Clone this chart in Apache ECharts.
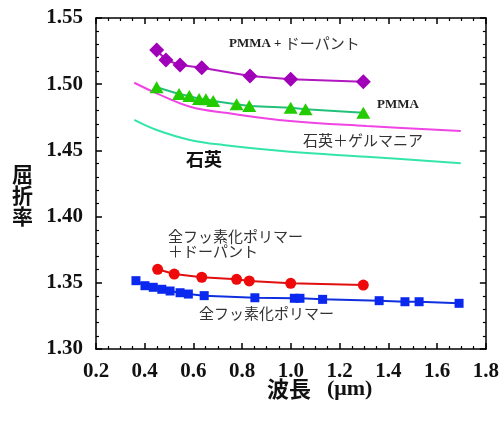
<!DOCTYPE html>
<html><head><meta charset="utf-8">
<script src="https://cdn.jsdelivr.net/npm/echarts@6/dist/echarts.min.js"></script>
<style>html,body{margin:0;padding:0;background:#fff}#c{width:502px;height:421px}</style>
</head><body><div id="c"></div>
<script>
// Data (wavelength in µm, refractive index)
const pmmaDopantX = [0.449, 0.487, 0.545, 0.634, 0.832, 0.999, 1.297];
const pmmaDopantY = [1.5258, 1.5183, 1.5145, 1.5125, 1.5062, 1.5037, 1.5019];
const pmmaX = [0.449, 0.541, 0.583, 0.623, 0.651, 0.681, 0.777, 0.829, 0.999, 1.060, 1.297];
const pmmaY = [1.4977, 1.4926, 1.4911, 1.4888, 1.4886, 1.4873, 1.4848, 1.4835, 1.4823, 1.4810, 1.4785];
const quartzGeX = [0.357, 0.449, 0.586, 0.74, 0.996, 1.311, 1.697];
const quartzGeY = [1.5011, 1.4931, 1.4830, 1.4782, 1.4722, 1.4684, 1.4647];
const quartzX = [0.357, 0.449, 0.586, 0.722, 0.996, 1.311, 1.697];
const quartzY = [1.4730, 1.4654, 1.4579, 1.4541, 1.4490, 1.4452, 1.4403];
const pfDopantX = [0.453, 0.521, 0.634, 0.777, 0.829, 0.999, 1.297];
const pfDopantY = [1.3602, 1.3566, 1.3542, 1.3526, 1.3514, 1.3496, 1.3483];
const pfX = [0.364, 0.401, 0.435, 0.470, 0.504, 0.545, 0.579, 0.644, 0.852, 1.014, 1.037, 1.130, 1.362, 1.468, 1.526, 1.690];
const pfY = [1.3516, 1.3478, 1.3466, 1.3451, 1.3438, 1.3425, 1.3415, 1.3403, 1.3387, 1.3383, 1.3383, 1.3375, 1.3365, 1.3357, 1.3357, 1.3345];
const xTicks = [0.2, 0.4, 0.6, 0.8, 1.0, 1.2, 1.4, 1.6, 1.8];
const yTicks = [1.30, 1.35, 1.40, 1.45, 1.50, 1.55];

const zip = (xs, ys) => xs.map((x, i) => [x, ys[i]]);
const serif = '"Liberation Serif", "DejaVu Serif", serif';
const gothic = '"Noto Sans CJK JP", "Noto Sans", sans-serif';

const chart = echarts.init(document.getElementById('c'), null, {renderer: 'canvas'});
const axisCommon = {
  axisLine: {show: true, lineStyle: {color: '#000', width: 1.5}},
  axisTick: {show: true, inside: true, length: 6, lineStyle: {color: '#000', width: 1.5}},
  minorTick: {show: true, length: 3, lineStyle: {color: '#000', width: 1.2}},
  splitLine: {show: false}
};
chart.setOption({
  animation: false,
  backgroundColor: '#fff',
  grid: {left: 96, right: 16, top: 18, bottom: 72},
  xAxis: [
    Object.assign({type: 'value', min: xTicks[0], max: xTicks[xTicks.length - 1], interval: 0.2, position: 'bottom',
      axisLabel: {show: true, margin: 12, color: '#111', fontFamily: serif, fontWeight: 'bold', fontSize: 21,
        formatter: v => v.toFixed(1)}}, axisCommon, {minorTick: Object.assign({}, axisCommon.minorTick, {splitNumber: 4})}),
    Object.assign({type: 'value', min: xTicks[0], max: xTicks[xTicks.length - 1], interval: 0.2, position: 'top',
      axisLabel: {show: false}}, axisCommon, {minorTick: Object.assign({}, axisCommon.minorTick, {splitNumber: 4})})
  ],
  yAxis: [
    Object.assign({type: 'value', min: yTicks[0], max: yTicks[yTicks.length - 1], interval: 0.05, position: 'left',
      axisLabel: {show: true, margin: 13, color: '#111', fontFamily: serif, fontWeight: 'bold', fontSize: 21,
        formatter: v => v.toFixed(2)}}, axisCommon, {minorTick: Object.assign({}, axisCommon.minorTick, {splitNumber: 5})}),
    Object.assign({type: 'value', min: yTicks[0], max: yTicks[yTicks.length - 1], interval: 0.05, position: 'right',
      axisLabel: {show: false}}, axisCommon, {minorTick: Object.assign({}, axisCommon.minorTick, {splitNumber: 5})})
  ],
  series: [
    {type: 'line', data: zip(quartzGeX, quartzGeY), smooth: 0.4, showSymbol: false, symbol: 'none',
      lineStyle: {color: '#f044e4', width: 2}},
    {type: 'line', data: zip(quartzX, quartzY), smooth: 0.4, showSymbol: false, symbol: 'none',
      lineStyle: {color: '#33e6a8', width: 2}},
    {type: 'line', data: zip(pmmaX, pmmaY), symbol: 'triangle', symbolSize: [14, 12],
      lineStyle: {color: '#22c07a', width: 2}, itemStyle: {color: '#22cc00'}},
    {type: 'line', data: zip(pmmaDopantX, pmmaDopantY), symbol: 'diamond', symbolSize: [15, 15],
      lineStyle: {color: '#b218c0', width: 2}, itemStyle: {color: '#a000b8'}},
    {type: 'line', data: zip(pfDopantX, pfDopantY), symbol: 'circle', symbolSize: 11,
      lineStyle: {color: '#e01010', width: 2}, itemStyle: {color: '#ee0a0a'}},
    {type: 'line', data: zip(pfX, pfY), symbol: 'rect', symbolSize: 9,
      lineStyle: {color: '#1030e0', width: 2}, itemStyle: {color: '#0a28ee'}}
  ],
  graphic: [
    {type: 'text', left: 229, top: 36, style: {
      text: '{a|PMMA + }{b|ドーパント}',
      rich: {a: {fontFamily: serif, fontWeight: 'bold', fontSize: 13, fill: '#222'},
             b: {fontFamily: gothic, fontSize: 15, fill: '#333'}}}},
    {type: 'text', left: 377, top: 98, style: {text: 'PMMA', fontFamily: serif, fontWeight: 'bold', fontSize: 13, fill: '#222'}},
    {type: 'text', left: 303, top: 133, style: {text: '石英＋ゲルマニア', fontFamily: gothic, fontSize: 15, fill: '#333'}},
    {type: 'text', left: 186, top: 150, style: {text: '石英', fontFamily: gothic, fontWeight: 'bold', fontSize: 18, fill: '#111'}},
    {type: 'text', left: 168, top: 229, style: {text: '全フッ素化ポリマー\n＋ドーパント', fontFamily: gothic, fontSize: 15, lineHeight: 15, fill: '#333'}},
    {type: 'text', left: 199, top: 306, style: {text: '全フッ素化ポリマー', fontFamily: gothic, fontSize: 15, fill: '#333'}},
    {type: 'text', left: 12, top: 164, style: {text: '屈\n折\n率', fontFamily: gothic, fontWeight: 'bold', fontSize: 21, lineHeight: 21, fill: '#111'}},
    {type: 'text', left: 267, top: 378, style: {
      text: '{a|波長}{s| }{b|(μm)}',
      rich: {a: {fontFamily: gothic, fontWeight: 'bold', fontSize: 22, fill: '#111'},
             s: {fontFamily: serif, fontSize: 22, width: 16},
             b: {fontFamily: serif, fontWeight: 'bold', fontSize: 22, fill: '#111'}}}}
  ]
});
</script></body></html>
